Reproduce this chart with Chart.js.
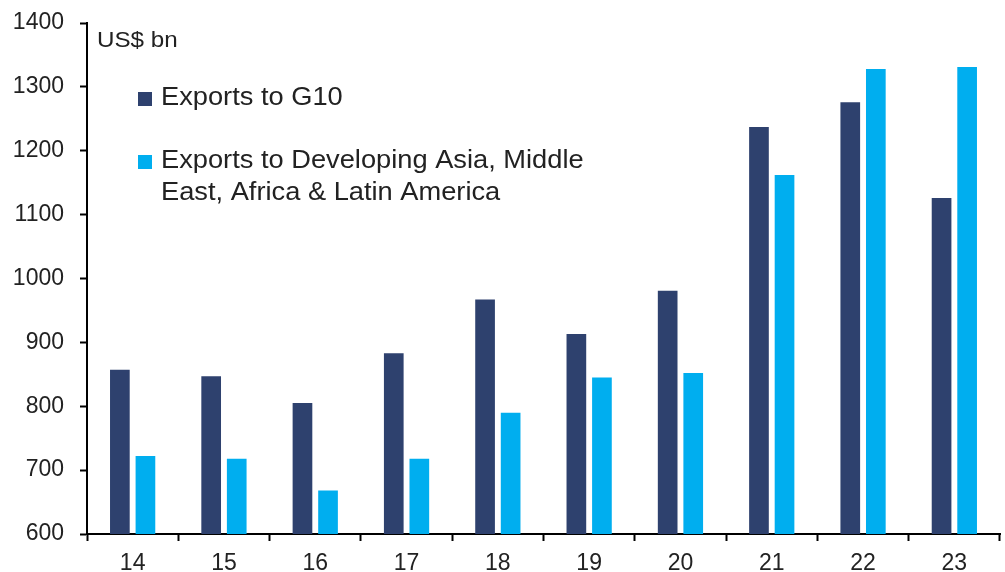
<!DOCTYPE html>
<html>
<head>
<meta charset="utf-8">
<script src="https://cdn.jsdelivr.net/npm/chart.js@4"></script>
<style>
    html, body { margin: 0; padding: 0; background: #fff; }
    #wrap { width: 1005px; height: 572px; }
</style>
</head>
<body>
<div id="wrap"><canvas id="exportChart" width="1005" height="572"></canvas></div>
<script>
const YEARS = ['14', '15', '16', '17', '18', '19', '20', '21', '22', '23'];
const G10_EXPORTS = [857, 847, 805, 883, 967, 913, 981, 1237, 1276, 1126];
const EM_EXPORTS = [722, 718, 668, 718, 790, 845, 852, 1162, 1328, 1331];
const Y_TICKS = [600, 700, 800, 900, 1000, 1100, 1200, 1300, 1400];

const FONT = '"Liberation Sans", Arial, sans-serif';

// 가로로 약간 늘려서 글자 그리기
function wideText(c, text, x, y, sx) {
    c.save();
    c.translate(x, y);
    c.scale(sx, 1);
    c.fillText(text, 0, 0);
    c.restore();
}

// 범례 + 단위 표시 (차트 영역 안쪽 왼쪽 위)
const legendInside = {
    id: 'legendInside',
    afterDraw(chart) {
        const c = chart.ctx;
        const ds = chart.data.datasets;
        c.save();
        c.textBaseline = 'middle';
        c.fillStyle = '#222';
        c.font = `22px ${FONT}`;
        wideText(c, 'US$ bn', 97, 41, 1.1);

        c.font = `25px ${FONT}`;
        const rows = [
            { y: 98, lines: ds[0].legendLines },
            { y: 161, lines: ds[1].legendLines }
        ];
        rows.forEach((r, i) => {
            c.fillStyle = ds[i].backgroundColor;
            c.fillRect(138, r.y - 6, 14, 14);
            c.fillStyle = '#222';
            r.lines.forEach((t, k) => wideText(c, t, 161, r.y + k * 32, 1.09));
        });
        c.restore();
    }
};

// eslint-disable-next-line no-undef
new Chart(document.getElementById('exportChart'), {
    type: 'bar',
    data: {
        labels: YEARS,
        datasets: [
            {
                label: 'Exports to G10',
                legendLines: ['Exports to G10'],
                data: G10_EXPORTS,
                backgroundColor: '#2E416E',
                categoryPercentage: 0.56,
                barPercentage: 0.77
            },
            {
                label: 'Exports to Developing Asia, Middle East, Africa & Latin America',
                legendLines: ['Exports to Developing Asia, Middle', 'East, Africa & Latin America'],
                data: EM_EXPORTS,
                backgroundColor: '#00AEEF',
                categoryPercentage: 0.56,
                barPercentage: 0.77
            }
        ]
    },
    options: {
        responsive: false,
        animation: false,
        layout: { padding: { top: 23, right: 5, left: 0, bottom: 0 } },
        plugins: {
            legend: { display: false },
            tooltip: { enabled: false }
        },
        scales: {
            x: {
                border: { display: true, color: '#000', width: 2 },
                grid: {
                    display: true,
                    drawOnChartArea: false,
                    drawTicks: true,
                    tickLength: 7,
                    tickColor: '#000',
                    tickWidth: 2,
                    offset: true
                },
                ticks: {
                    color: '#222',
                    font: { family: FONT, size: 23 },
                    padding: 9,
                    maxRotation: 0
                },
                afterFit: (s) => { s.height = 38; s.paddingLeft = 0; s.paddingRight = 0; }
            },
            y: {
                min: 600,
                max: 1400,
                border: { display: true, color: '#000', width: 2 },
                grid: {
                    display: true,
                    drawOnChartArea: false,
                    drawTicks: true,
                    tickLength: 7,
                    tickColor: '#000',
                    tickWidth: 2
                },
                afterBuildTicks: (s) => { s.ticks = Y_TICKS.map(v => ({ value: v })); },
                ticks: {
                    color: '#222',
                    font: { family: FONT, size: 23 },
                    padding: 16,
                    callback: (v) => String(v)
                },
                afterFit: (s) => { s.width = 87; s.paddingTop = 0; s.paddingBottom = 0; }
            }
        }
    },
    plugins: [legendInside]
});
</script>
</body>
</html>
